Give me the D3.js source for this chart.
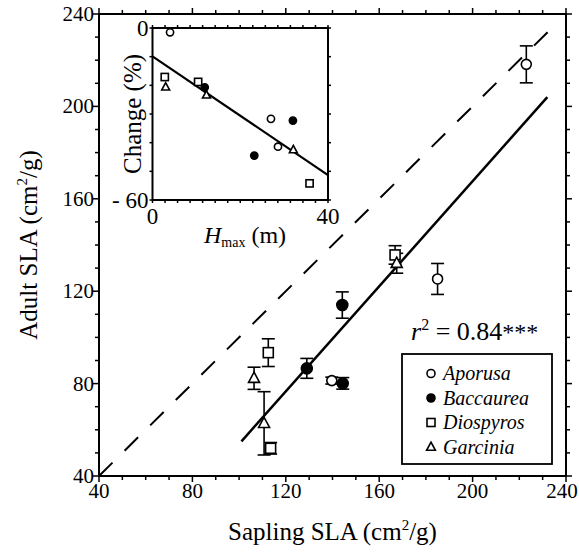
<!DOCTYPE html>
<meta charset="utf-8">
<style>
body { margin: 0; background: #fff; }
.chart text { font-family: "Liberation Serif", "Times New Roman", serif; fill: #000; }
.chart .frame { fill: none; stroke: #000; stroke-width: 2; }
.chart .tick-line { stroke: #000; stroke-width: 1.5; }
</style>
<body>
<svg class="chart js-chart"></svg>

<script src="https://cdn.jsdelivr.net/npm/d3@7"></script>
<script>
"use strict";

// main panel: sapling vs adult SLA, one row per species
var genus    = ["Aporusa", "Aporusa", "Aporusa",
                "Baccaurea", "Baccaurea", "Baccaurea",
                "Diospyros", "Diospyros", "Diospyros",
                "Garcinia", "Garcinia", "Garcinia"];
var sapling  = [223, 185, 139.7, 144.2, 129, 144.4, 112.5, 166.8, 113.5, 167.5, 106.4, 110.7];
var adult    = [218.2, 125.3, 81.3, 114, 86.6, 80.1, 93.4, 135.7, 52, 132.1, 82.3, 62.8];
var adultErr = [8, 6.7, 1.5, 5.7, 4.3, 2.5, 6, 4, 2.5, 4.3, 4.8, 13.7];

var fitX = [101, 232],
    fitY = [55, 204];
var oneToOne = [40, 237];

// inset: height vs change in SLA
var insetGenus  = ["Aporusa", "Aporusa", "Aporusa",
                   "Baccaurea", "Baccaurea", "Baccaurea",
                   "Diospyros", "Diospyros", "Diospyros",
                   "Garcinia", "Garcinia", "Garcinia"];
var hmax   = [4.0, 27.0, 28.6, 11.9, 32.0, 23.2, 2.8, 10.4, 35.8, 3.0, 12.3, 32.1];
var change = [-1.5, -31.7, -41.4, -20.7, -32.3, -44.5, -17.1, -18.8, -54.2, -20.6, -23.4, -42.5];
var insetFitX = [0, 40],
    insetFitY = [-9.9, -51.3];

var mainTicks = [40, 80, 120, 160, 200, 240];
var legendItems = ["Aporusa", "Baccaurea", "Diospyros", "Garcinia"];

var W = 579, H = 555;
var margin = { top: 14, right: 13, bottom: 79, left: 99 };

var svg = d3.select(".js-chart").attr("width", W).attr("height", H);

var x = d3.scaleLinear().domain([40, 240]).range([margin.left, W - margin.right]);
var y = d3.scaleLinear().domain([40, 240]).range([H - margin.bottom, margin.top]);

var fillFor = function(g) { return g === "Baccaurea" ? "#000" : "#fff"; };

function marker(sel, g, size) {
    // size ~ half width of the marker
    if (g === "Aporusa" || g === "Baccaurea") {
        sel.append("circle").attr("r", size)
            .attr("fill", fillFor(g)).attr("stroke", "#000").attr("stroke-width", 1.6);
    } else if (g === "Diospyros") {
        sel.append("rect").attr("x", -size).attr("y", -size)
            .attr("width", size * 2).attr("height", size * 2)
            .attr("fill", "#fff").attr("stroke", "#000").attr("stroke-width", 1.6);
    } else {
        var s = size * 1.1;
        sel.append("path")
            .attr("d", "M0," + (-s * 1.1) + "L" + s + "," + (s * 0.75) + "L" + (-s) + "," + (s * 0.75) + "Z")
            .attr("fill", "#fff").attr("stroke", "#000").attr("stroke-width", 1.6);
    }
}

function frameTicks(g, xs, ys, xMinor, yMinor, major, minor) {
    var x0 = xs.range()[0], x1 = xs.range()[1], y0 = ys.range()[0], y1 = ys.range()[1];
    xMinor.forEach(function(v) {
        var len = major.x.indexOf(v) >= 0 ? major.len : minor;
        g.append("line").attr("class", "tick-line")
            .attr("x1", xs(v)).attr("x2", xs(v)).attr("y1", y0).attr("y2", y0 + len);
        g.append("line").attr("class", "tick-line")
            .attr("x1", xs(v)).attr("x2", xs(v)).attr("y1", y1).attr("y2", y1 - len);
    });
    yMinor.forEach(function(v) {
        var len = major.y.indexOf(v) >= 0 ? major.len : minor;
        g.append("line").attr("class", "tick-line")
            .attr("x1", x0).attr("x2", x0 - len).attr("y1", ys(v)).attr("y2", ys(v));
        g.append("line").attr("class", "tick-line")
            .attr("x1", x1).attr("x2", x1 + len).attr("y1", ys(v)).attr("y2", ys(v));
    });
}

// ---- main panel ----
var main = svg.append("g");

var minorTicks = d3.range(40, 241, 10);
frameTicks(main, x, y, minorTicks, minorTicks, { x: mainTicks, y: mainTicks, len: 6 }, 4);

main.append("rect").attr("class", "frame")
    .attr("x", x(40)).attr("y", y(240))
    .attr("width", x(240) - x(40)).attr("height", y(40) - y(240));

main.selectAll(".xlab").data(mainTicks).enter().append("text")
    .attr("x", function(d) { return Math.min(x(d), W - 17); })
    .attr("y", y(40) + 22)
    .attr("text-anchor", "middle")
    .style("font-size", "21px")
    .text(function(d) { return d; });

main.selectAll(".ylab").data(mainTicks).enter().append("text")
    .attr("x", x(40) - 5)
    .attr("y", function(d) { return y(d) + 7; })
    .attr("text-anchor", "end")
    .style("font-size", "21px")
    .text(function(d) { return d; });

// 1:1 line
main.append("line")
    .attr("x1", x(oneToOne[0])).attr("y1", y(oneToOne[0]))
    .attr("x2", x(oneToOne[1])).attr("y2", y(oneToOne[1]))
    .attr("stroke", "#000").attr("stroke-width", 2)
    .attr("stroke-dasharray", "19,17");

// fitted line
main.append("line")
    .attr("x1", x(fitX[0])).attr("y1", y(fitY[0]))
    .attr("x2", x(fitX[1])).attr("y2", y(fitY[1]))
    .attr("stroke", "#000").attr("stroke-width", 2.5);

// error bars
var bars = main.selectAll(".err").data(d3.range(sapling.length)).enter().append("g");
bars.append("line")
    .attr("x1", function(i) { return x(sapling[i]); })
    .attr("x2", function(i) { return x(sapling[i]); })
    .attr("y1", function(i) { return y(adult[i] - adultErr[i]); })
    .attr("y2", function(i) { return y(adult[i] + adultErr[i]); })
    .attr("stroke", "#000").attr("stroke-width", 1.6);
[-1, 1].forEach(function(sgn) {
    bars.append("line")
        .attr("x1", function(i) { return x(sapling[i]) - 6.5; })
        .attr("x2", function(i) { return x(sapling[i]) + 6.5; })
        .attr("y1", function(i) { return y(adult[i] + sgn * adultErr[i]); })
        .attr("y2", function(i) { return y(adult[i] + sgn * adultErr[i]); })
        .attr("stroke", "#000").attr("stroke-width", 1.6);
});

// points
sapling.forEach(function(s, i) {
    var g = main.append("g").attr("transform", "translate(" + x(s) + "," + y(adult[i]) + ")");
    marker(g, genus[i], genus[i] === "Baccaurea" ? 5.5 : 5);
});

// r^2 annotation
var r2 = main.append("text").attr("x", 411).attr("y", 340).style("font-size", "26px");
r2.append("tspan").style("font-style", "italic").text("r");
r2.append("tspan").attr("dy", -10).style("font-size", "16px").text("2");
r2.append("tspan").attr("dy", 10).text(" = 0.84");
r2.append("tspan").attr("dy", 0).style("font-size", "24px").text("***");

// legend
var legend = main.append("g").attr("transform", "translate(402,354)");
legend.append("rect").attr("width", 150).attr("height", 110)
    .attr("fill", "#fff").attr("stroke", "#000").attr("stroke-width", 1.8);
legendItems.forEach(function(name, i) {
    var row = legend.append("g").attr("transform", "translate(29," + (19.5 + i * 24.5) + ")");
    marker(row, name, 4);
    row.append("text").attr("x", 12).attr("y", 6.5)
        .style("font-size", "20px").style("font-style", "italic")
        .text(name);
});

// axis titles
var xt = main.append("text").attr("x", x(140)).attr("y", 540)
    .attr("text-anchor", "middle").style("font-size", "25px");
xt.append("tspan").text("Sapling SLA (cm");
xt.append("tspan").attr("dy", -10).style("font-size", "15px").text("2");
xt.append("tspan").attr("dy", 10).text("/g)");

var yt = main.append("text")
    .attr("transform", "translate(37," + y(140) + ") rotate(-90)")
    .attr("text-anchor", "middle").style("font-size", "25px");
yt.append("tspan").text("Adult SLA (cm");
yt.append("tspan").attr("dy", -10).style("font-size", "15px").text("2");
yt.append("tspan").attr("dy", 10).text("/g)");

// ---- inset ----
var ix = d3.scaleLinear().domain([0, 40]).range([152.5, 328]);
var iy = d3.scaleLinear().domain([-60, 0]).range([200, 28]);
var inset = svg.append("g");

inset.append("rect")
    .attr("x", ix(0)).attr("y", iy(0))
    .attr("width", ix(40) - ix(0)).attr("height", iy(-60) - iy(0))
    .attr("fill", "#fff");

frameTicks(inset, ix, iy, d3.range(0, 40.01, 40 / 14), d3.range(-60, 0.01, 10),
    { x: [], y: [], len: 3 }, 3);

inset.append("rect").attr("class", "frame")
    .attr("x", ix(0)).attr("y", iy(0))
    .attr("width", ix(40) - ix(0)).attr("height", iy(-60) - iy(0));

inset.append("line")
    .attr("x1", ix(insetFitX[0])).attr("y1", iy(insetFitY[0]))
    .attr("x2", ix(insetFitX[1])).attr("y2", iy(insetFitY[1]))
    .attr("stroke", "#000").attr("stroke-width", 2.2);

hmax.forEach(function(h, i) {
    var g = inset.append("g").attr("transform", "translate(" + ix(h) + "," + iy(change[i]) + ")");
    marker(g, insetGenus[i], 3.6);
});

inset.append("text").attr("x", ix(0) - 4).attr("y", iy(0) + 8)
    .attr("text-anchor", "end").style("font-size", "23px").text("0");
inset.append("text").attr("x", ix(0) - 4).attr("y", iy(-60) + 8)
    .attr("text-anchor", "end").style("font-size", "23px").text("- 60");
inset.append("text").attr("x", ix(0)).attr("y", iy(-60) + 24)
    .attr("text-anchor", "middle").style("font-size", "23px").text("0");
inset.append("text").attr("x", ix(40)).attr("y", iy(-60) + 24)
    .attr("text-anchor", "middle").style("font-size", "23px").text("40");

var ht = inset.append("text").attr("x", 245).attr("y", 243)
    .attr("text-anchor", "middle").style("font-size", "24px");
ht.append("tspan").style("font-style", "italic").text("H");
ht.append("tspan").attr("dy", 4).style("font-size", "14px").text("max");
ht.append("tspan").attr("dy", -4).text(" (m)");

inset.append("text")
    .attr("transform", "translate(141," + iy(-30) + ") rotate(-90)")
    .attr("text-anchor", "middle").style("font-size", "25px")
    .text("Change (%)");

</script>
</body>
